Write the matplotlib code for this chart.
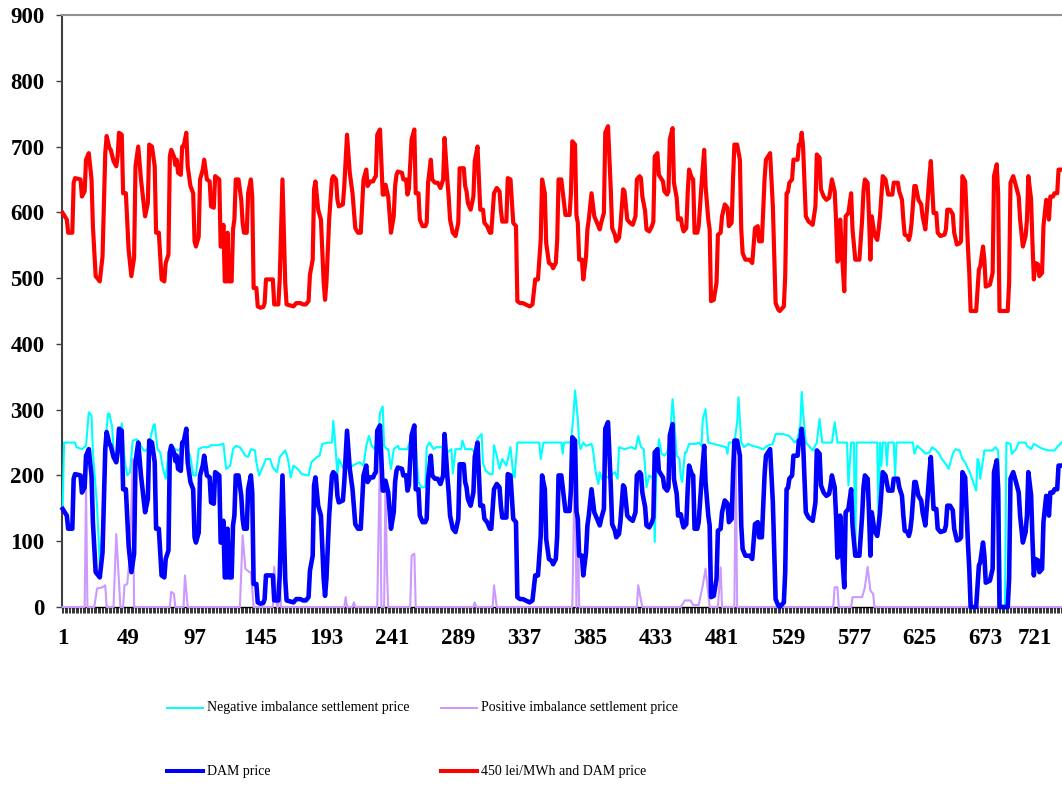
import numpy as np
import matplotlib.pyplot as plt
from matplotlib.lines import Line2D

# DAM price (lei/MWh) read at the turning points, (hour, value)
dam = [(1,149),(4,139),(5,119),(8,119),(9,195),(10,202),(14,200),(15,174),(17,182),(18,230),
       (20,240),(22,200),(23,129),(25,53),(28,45),(30,83),(32,240),(33,266),(35,248),(36,245),
       (38,228),(40,220),(41,235),(42,271),(44,268),(45,179),(47,179),(49,93),(51,53),(53,81),
       (54,220),(56,250),(58,200),(61,144),(63,164),(64,253),(66,250),(68,220),(69,119),(71,119),
       (72,83),(73,48),(75,45),(76,73),(78,86),(79,235),(80,245),(82,235),(83,222),(84,230),
       (85,210),(87,207),(88,250),(89,250),(91,271),(92,220),(94,190),(96,179),(97,106),(98,98),
       (100,113),(101,200),(103,215),(104,230),(106,200),(108,197),(109,159),(111,157),(112,205),(115,200),
       (116,98),(117,98),(118,131),(119,45),(120,45),(121,119),(122,45),(124,45),(125,124),(126,139),
       (127,200),(129,200),(131,169),(132,134),(133,119),(135,119),(136,179),(138,200),(139,174),(140,35),
       (142,35),(143,7),(145,5),(147,6),(148,12),(149,48),(154,48),(155,10),(158,10),(159,48),
       (161,200),(163,43),(164,10),(169,7),(171,12),(174,12),(176,10),(178,10),(180,15),(181,55),
       (183,78),(184,185),(185,197),(187,154),(189,139),(191,43),(192,17),(193,43),(195,139),(197,200),
       (198,205),(200,200),(201,169),(202,159),(205,162),(206,190),(208,268),(210,210),(212,179),(214,126),
       (216,119),(218,119),(220,200),(222,215),(223,190),(225,197),(227,197),(228,202),(229,205),(230,268),
       (232,276),(234,177),(235,177),(236,192),(238,174),(240,119),(242,144),(243,190),(244,207),(245,212),
       (248,210),(249,200),(251,200),(252,177),(253,185),(255,261),(257,276),(258,179),(260,179),(261,139),
       (263,129),(265,129),(266,134),(267,195),(269,230),(270,200),(272,195),(274,195),(276,187),(278,200),
       (279,263),(281,200),(282,174),(283,139),(285,119),(287,114),(289,134),(290,217),(293,217),(294,190),
       (295,182),(296,164),(298,154),(300,174),(301,228),(303,250),(304,200),(305,154),(307,154),(308,134),
       (310,129),(312,119),(313,119),(315,179),(317,187),(319,182),(320,154),(321,136),(324,136),(325,202),
       (327,200),(329,134),(331,129),(332,15),(334,12),(336,12),(338,10),(341,7),(343,10),(345,48),
       (347,48),(349,108),(350,200),(352,179),(353,103),(355,73),(357,70),(358,65),(360,73),(361,108),
       (362,200),(364,200),(365,182),(367,146),(370,146),(371,179),(372,258),(374,253),(375,146),(376,134),
       (377,78),(379,78),(380,48),(382,83),(383,124),(384,139),(386,179),(388,144),(389,139),(392,124),
       (393,134),(395,149),(396,271),(398,281),(400,185),(401,126),(403,116),(404,106),(406,111),(407,129),
       (409,185),(410,182),(412,139),(414,134),(416,131),(418,144),(419,200),(421,205),(422,202),(423,174),
       (425,152),(426,124),(428,121),(430,129),(431,136),(432,235),(434,240),(435,207),(438,197),(439,182),
       (441,177),(442,182),(443,261),(445,278),(446,195),(448,172),(449,139),(451,141),(452,129),(453,121),
       (455,126),(456,179),(457,215),(459,202),(460,200),(461,119),(463,119),(464,129),(466,190),(468,245),
       (469,190),(471,139),(472,124),(473,15),(475,17),(477,43),(478,116),(480,119),(481,144),(483,162),
       (485,157),(486,129),(488,134),(489,200),(490,253),(492,253),(494,230),(495,124),(496,88),(498,78),
       (501,78),(503,73),(505,126),(507,129),(508,106),(510,106),(512,202),(513,230),(516,240),(518,159),
       (519,88),(520,12),(522,2),(523,0),(526,7),(527,53),(528,179),(529,181),(530,195),(532,200),
       (533,230),(536,230),(537,253),(538,253),(539,271),(540,250),(542,144),(544,136),(547,131),(549,159),
       (550,238),(552,233),(553,185),(555,174),(557,169),(559,172),(560,185),(561,200),(563,182),(564,139),
       (565,75),(566,78),(567,139),(569,63),(570,30),(571,144),(573,149),(575,179),(576,124),(578,78),
       (581,78),(583,139),(584,182),(585,200),(587,195),(588,144),(589,78),(590,144),(592,116),(594,108),
       (595,124),(596,144),(598,205),(600,200),(602,177),(605,177),(606,195),(609,195),(610,182),(612,169),
       (613,139),(614,116),(616,114),(617,108),(618,116),(619,134),(621,190),(622,190),(624,169),(626,162),
       (627,144),(629,124),(630,149),(632,205),(633,228),(635,149),(637,149),(638,119),(640,114),(643,116),
       (644,124),(645,154),(647,154),(649,147),(650,119),(652,101),(654,103),(655,106),(656,205),(658,197),
       (660,98),(661,58),(662,0),(666,0),(668,63),(669,68),(671,98),(672,78),(673,37),(676,40),
       (678,58),(679,205),(681,223),(682,179),(683,0),(689,0),(690,43),(691,195),(693,205),(695,190),
       (697,174),(698,139),(700,98),(702,114),(703,139),(704,205),(706,170),(707,103),(708,48),(709,73),
       (711,71),(712,53),(714,58),(715,129),(717,169),(718,167),(719,139),(720,174),(722,174),(723,179),
       (725,179),(726,215),(728,215)]

# negative imbalance settlement price
neg_imb = [(1,150),(2,250),(10,250),(11,243),(15,240),(18,245),(20,296),(22,291),(23,235),(26,154),
           (28,63),(31,150),(32,248),(34,294),(35,294),(37,274),(38,238),(39,223),(41,248),(44,279),
           (46,225),(48,200),(50,205),(52,253),(55,255),(57,248),(60,238),(62,238),(64,248),(67,276),
           (68,278),(70,240),(72,235),(74,210),(76,195),(78,235),(80,246),(83,240),(85,238),(89,243),
           (91,246),(94,228),(96,200),(98,200),(100,240),(103,243),(107,243),(109,246),(114,246),(118,248),
           (120,210),(123,215),(125,240),(127,245),(130,243),(134,230),(136,228),(138,240),(141,238),(142,220),
           (144,200),(147,215),(149,225),(152,225),(154,212),(157,205),(159,228),(163,238),(165,225),(167,197),
           (169,215),(172,210),(175,202),(180,200),(182,220),(186,228),(188,230),(190,248),(194,250),(197,250),
           (198,283),(199,260),(201,202),(202,225),(205,212),(208,225),(210,212),(214,217),(217,220),(220,215),
           (222,245),(224,260),(226,245),(228,240),(231,265),(232,295),(234,305),(235,245),(237,240),(238,240),
           (240,210),(242,240),(245,245),(246,240),(252,240),(254,253),(258,245),(260,190),(262,182),(265,182),
           (266,243),(268,250),(271,240),(273,243),(277,243),(279,245),(281,235),(284,240),(285,203),(287,240),
           (291,240),(292,253),(294,240),(299,240),(301,235),(303,256),(306,263),(307,218),(309,207),(312,202),
           (314,202),(315,246),(317,230),(319,210),(321,225),(324,215),(327,243),(329,202),(330,197),(332,250),
           (348,250),(349,225),(351,250),(364,250),(365,233),(366,250),(371,250),(373,296),(374,329),(376,286),
           (377,250),(378,240),(380,250),(382,245),(386,248),(387,240),(389,205),(391,187),(392,205),(394,193),
           (395,200),(398,197),(400,200),(403,205),(405,195),(406,243),(410,240),(415,243),(418,240),(420,260),
           (422,243),(424,240),(426,182),(428,200),(431,195),(432,99),(433,192),(435,255),(437,233),(439,230),
           (441,235),(443,253),(445,316),(446,290),(448,230),(450,225),(451,197),(452,190),(454,235),(455,235),
           (457,248),(462,248),(464,250),(466,245),(467,286),(469,301),(471,250),(484,243),(485,233),(486,250),
           (490,250),(492,281),(493,319),(495,250),(497,243),(500,248),(503,245),(507,243),(511,240),(514,245),
           (518,248),(520,263),(525,263),(530,260),(532,255),(534,250),(536,255),(538,278),(539,327),(540,296),
           (542,250),(545,243),(547,238),(550,250),(552,286),(554,250),(561,250),(563,281),(565,250),(572,250),
           (573,185),(575,250),(577,250),(578,83),(579,250),(594,250),(595,119),(596,250),(597,215),(598,250),
           (600,250),(601,215),(602,250),(606,250),(607,200),(608,250),(620,250),(621,233),(623,245),(627,238),
           (629,233),(632,235),(634,243),(637,238),(639,233),(641,225),(644,217),(646,210),(649,233),(651,240),
           (654,238),(656,225),(658,220),(660,210),(661,207),(663,195),(666,177),(667,225),(668,220),(669,195),
           (672,238),(678,238),(680,243),(682,238),(683,170),(684,2),(687,2),(688,250),(691,248),(692,233),
           (695,240),(697,250),(702,250),(703,245),(706,240),(708,248),(712,243),(715,240),(719,238),(723,238),
           (725,243),(728,250)]

# positive imbalance settlement price
pos_imb = [(1,0),(17,0),(18,180),(19,0),(24,0),(26,28),(30,30),(32,33),(33,0),(38,0),
           (40,111),(43,0),(45,0),(46,33),(48,35),(50,80),(52,225),(53,0),(79,0),(80,23),
           (82,20),(83,0),(89,0),(90,48),(92,0),(130,0),(132,109),(134,58),(137,53),(138,53),
           (140,0),(154,0),(155,61),(157,0),(158,0),(159,43),(160,0),(206,0),(207,15),(208,0),
           (212,0),(213,7),(214,0),(230,0),(232,240),(233,0),(235,0),(236,190),(237,58),(238,0),
           (254,0),(255,78),(257,81),(258,0),(300,0),(301,7),(302,0),(314,0),(315,33),(317,0),
           (372,0),(374,240),(375,0),(376,150),(377,0),(419,0),(420,33),(422,10),(423,0),(451,0),
           (454,10),(458,10),(460,3),(464,3),(467,33),(469,58),(471,20),(472,0),(478,0),(480,60),
           (481,0),(490,0),(491,240),(492,0),(562,0),(563,30),(565,30),(566,0),(575,0),(576,15),
           (583,15),(585,30),(587,61),(589,25),(591,20),(592,0),(728,0)]

offset = 450  # "450 lei/MWh and DAM price"
hour_labels = list(range(1, 722, 48))

dam_h, dam_v = zip(*dam)
neg_h, neg_v = zip(*neg_imb)
pos_h, pos_v = zip(*pos_imb)
red_v = np.array(dam_v) + offset

W, H = 1062, 785
fig = plt.figure(figsize=(W / 100, H / 100), dpi=100)
ax = fig.add_axes([62 / W, 1 - 607 / H, 1000 / W, 592 / H])

ax.plot(neg_h, neg_v, color="#00FFFF", lw=1.5, zorder=3, clip_on=False)
ax.plot(pos_h, pos_v, color="#CC99FF", lw=1.5, zorder=3.1, clip_on=False)
ax.plot(dam_h, dam_v, color="#0000FF", lw=3.3, zorder=3.2, clip_on=False)
ax.plot(dam_h, red_v, color="#FF0000", lw=3.0, zorder=3.3, clip_on=False)

ax.set_xlim(0.5, 0.5 + 1000 / 1.375)
ax.set_ylim(0, 900)
ax.set_yticks(range(0, 901, 100))
ax.set_xticks(hour_labels)
ax.set_xticks(np.arange(0.5, 729, 1), minor=True)

tick_font = dict(family="Liberation Serif", weight="bold", size=16.5)
ax.set_yticklabels([str(v) for v in range(0, 901, 100)], fontdict=tick_font)
ax.set_xticklabels([str(v) for v in hour_labels], fontdict=tick_font)
ax.tick_params(axis="y", length=4.5, width=1, color="#404040", pad=8)
ax.tick_params(axis="x", which="major", length=0, pad=15)
ax.tick_params(axis="x", which="minor", length=4.5, width=0.7, color="#303030")
# last label sits at the cut right edge: keep it fully visible
ax.get_xticklabels()[-1].set_horizontalalignment("right")
ax.get_xticklabels()[-1].set_x(721 + 14)

ax.spines["right"].set_visible(False)
ax.spines["top"].set_color("#909090")
ax.spines["top"].set_linewidth(1.5)
ax.spines["left"].set_color("#404040")
ax.spines["left"].set_linewidth(1.5)
ax.spines["bottom"].set_color("black")
ax.spines["bottom"].set_linewidth(1.0)

# legend, drawn by hand in two rows
entries = [("Negative imbalance settlement price", "#00FFFF", 2, 167, 708),
           ("Positive imbalance settlement price", "#CC99FF", 2, 441, 708),
           ("DAM price", "#0000FF", 4, 167, 771),
           ("450 lei/MWh and DAM price", "#FF0000", 4, 441, 771)]
for label, col, lw, x0, y0 in entries:
    fig.add_artist(Line2D([x0 / W, (x0 + 36) / W], [1 - y0 / H, 1 - y0 / H],
                          color=col, lw=lw * 0.72, transform=fig.transFigure))
    fig.text((x0 + 40) / W, 1 - y0 / H, label, family="Liberation Serif", size=10,
             va="center", ha="left")

fig.savefig("out.png", dpi=100)
